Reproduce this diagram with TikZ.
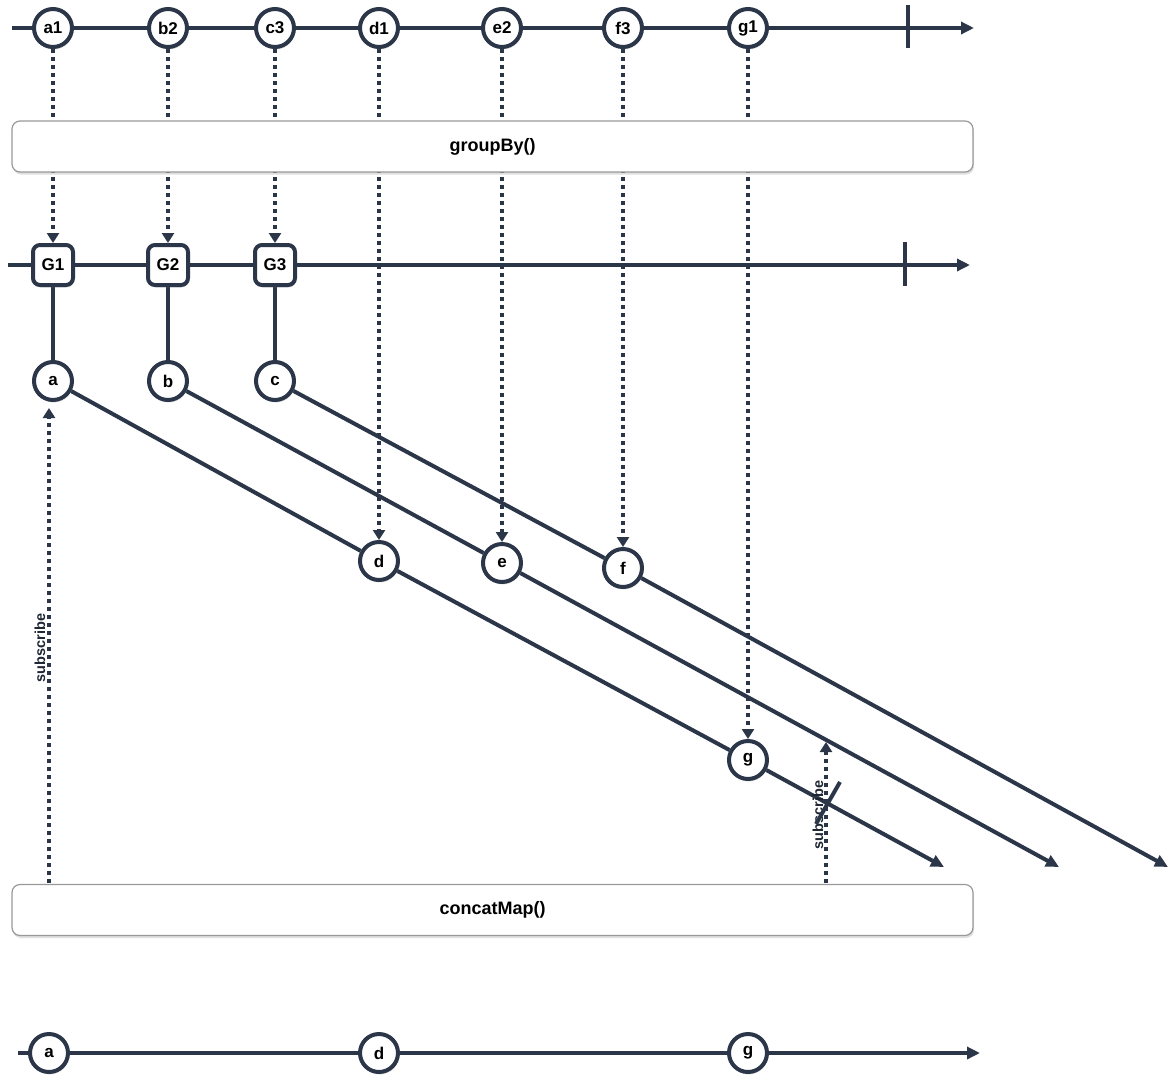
\documentclass[tikz,border=0pt]{standalone}
\usepackage{fontspec}
\setmainfont{Liberation Sans}
\usetikzlibrary{arrows.meta,shadows}
\definecolor{ink}{HTML}{2B3649}
\pgfdeclarelayer{bg}
\pgfsetlayers{bg,main}
\begin{document}
\begin{tikzpicture}[x=1pt,y=-1pt,
  shd/.style={drop shadow={opacity=0.25,shadow xshift=1pt,shadow yshift=-2.5pt}},
  ev/.style={circle,draw=ink,line width=4pt,fill=white,minimum size=38pt,inner sep=0pt,
     font=\fontsize{17}{19}\selectfont\bfseries,shd},
  grp/.style={rectangle,rounded corners=7pt,draw=ink,line width=4pt,fill=white,minimum size=40pt,inner sep=0pt,
     font=\fontsize{17}{19}\selectfont\bfseries,shd},
  op/.style={rectangle,rounded corners=8pt,draw=black!40,line width=1.2pt,fill=white,minimum width=961pt,minimum height=51pt,
     font=\fontsize{18}{20}\selectfont\bfseries,shd},
  tl/.style={draw=ink,line width=4pt,-{Triangle[length=13pt,width=12pt]}},
  tick/.style={draw=ink,line width=4pt},
  flow/.style={draw=ink,line width=4pt},
  flowarr/.style={draw=ink,line width=4pt,-{Triangle[length=13pt,width=12pt]}},
  dots/.style={draw=ink,line width=4pt,dash pattern=on 4pt off 4pt,-{Triangle[length=10pt,width=12pt]}},
  lbl/.style={font=\fontsize{14.5}{16}\selectfont\bfseries,text=ink!70!black,inner sep=0pt}
]
\useasboundingbox (0,0) rectangle (1171,1085);

% coordinates for free ends
\coordinate (t1s) at (12,28);   \coordinate (t1e) at (974,28);
\coordinate (k1a) at (908,5);   \coordinate (k1b) at (908,48);
\coordinate (t2s) at (8,265);   \coordinate (t2e) at (970,265);
\coordinate (k2a) at (905,242); \coordinate (k2b) at (905,286);
\coordinate (t3s) at (18,1053); \coordinate (t3e) at (980,1053);
\coordinate (endA) at (944,867);
\coordinate (endB) at (1059,867);
\coordinate (endC) at (1168,867);
\coordinate (s1a) at (49,883);  \coordinate (s1b) at (49,408);
\coordinate (s2a) at (826,883); \coordinate (s2b) at (826,742);
\coordinate (xa) at (840,782);  \coordinate (xb) at (816,824);

% top events
\node[ev] (a1) at (53,28) {a1};
\node[ev] (b2) at (168,28) {b2};
\node[ev] (c3) at (275,28) {c3};
\node[ev] (d1) at (379,28) {d1};
\node[ev] (e2) at (502,28) {e2};
\node[ev] (f3) at (623,28) {f3};
\node[ev] (g1) at (748,28) {g1};

% operators
\node[op] (gb) at (492.5,146.5) {groupBy()};
\node[op] (cm) at (492.5,910) {concatMap()};

% groups
\node[grp] (G1) at (53,265) {G1};
\node[grp] (G2) at (168,265) {G2};
\node[grp] (G3) at (275,265) {G3};

% group inner events
\node[ev] (a) at (53,381) {a};
\node[ev] (b) at (168,381) {b};
\node[ev] (c) at (275,381) {c};
\node[ev] (d) at (379,561) {d};
\node[ev] (e) at (502,563) {e};
\node[ev] (f) at (623,568) {f};
\node[ev] (g) at (748,760) {g};

% output events
\node[ev] (oa) at (49,1053) {a};
\node[ev] (od) at (379,1053) {d};
\node[ev] (og) at (748,1053) {g};

% subscribe labels
\node[lbl,rotate=90] (sl1) at (40,648) {subscribe};
\node[lbl,rotate=90] (sl2) at (818,815) {subscribe};

\begin{pgfonlayer}{bg}
  \draw[tl] (t1s) -- (t1e);
  \draw[tick] (k1a) -- (k1b);
  \draw[tl] (t2s) -- (t2e);
  \draw[tick] (k2a) -- (k2b);
  \draw[tl] (t3s) -- (t3e);

  \draw[dots] (a1) -- (G1);
  \draw[dots] (b2) -- (G2);
  \draw[dots] (c3) -- (G3);
  \draw[dots] (d1) -- (d);
  \draw[dots] (e2) -- (e);
  \draw[dots] (f3) -- (f);
  \draw[dots] (g1) -- (g);

  \draw[flow] (G1) -- (a);
  \draw[flow] (G2) -- (b);
  \draw[flow] (G3) -- (c);

  \draw[flow] (a) -- (d);
  \draw[flow] (d) -- (g);
  \draw[flowarr] (g) -- (endA);
  \draw[flow] (b) -- (e);
  \draw[flowarr] (e) -- (endB);
  \draw[flow] (c) -- (f);
  \draw[flowarr] (f) -- (endC);

  \draw[dots] (s1a) -- (s1b);
  \draw[dots] (s2a) -- (s2b);
\end{pgfonlayer}
\draw[flow] (xa) -- (xb);
\end{tikzpicture}
\end{document}
